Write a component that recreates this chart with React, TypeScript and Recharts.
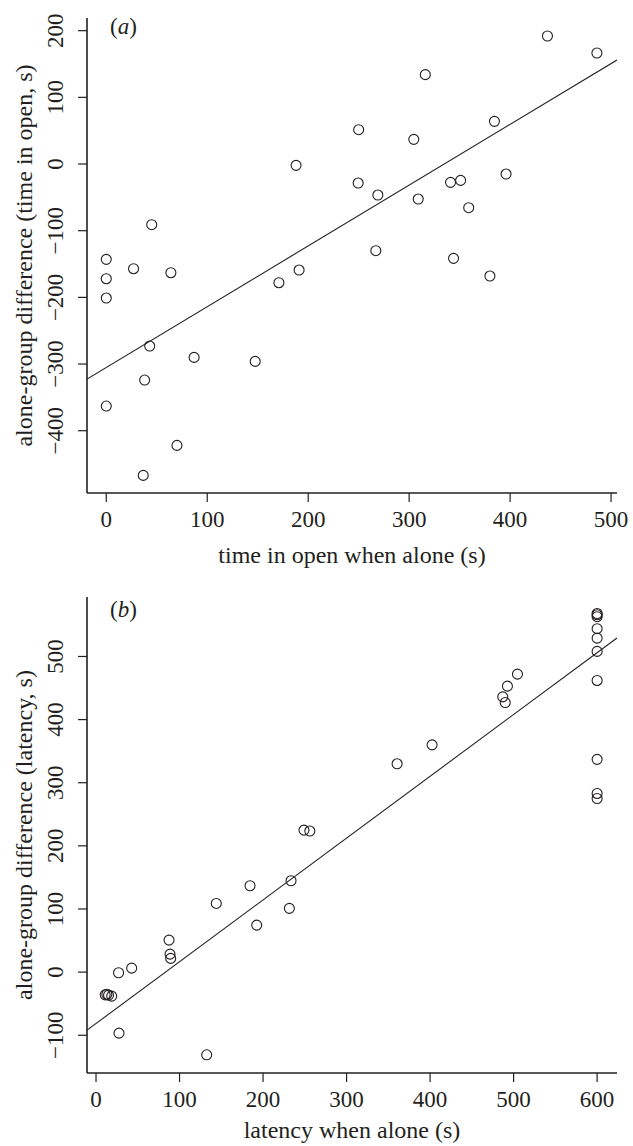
import React from 'react';
import { ScatterChart, Scatter, XAxis, YAxis, ReferenceLine } from 'recharts';

// Panel (a): time in open
const openAloneX = [0, 0, 0, 0, 27, 36.6, 38, 43, 45, 64, 70, 87, 147.5, 171, 188, 191, 249.5, 250, 267, 269, 304.6, 309, 316, 341, 344, 351, 359, 380, 384.5, 396, 437, 486];
const openDiffY = [-143, -172, -201, -363, -157, -467, -324, -273, -91, -163, -422, -290, -296, -178, -2, -159, -28.5, 51.5, -130, -46.5, 37, -52.5, 134, -27.5, -141.5, -24.5, -65.5, -168, 64, -15, 192, 166.5];
const openFit = { intercept: -305.1, slope: 0.9114 };
const openXDomain = [-19.1, 505.9];
const openYDomain = [-493.4, 219];
const openXTicks = [0, 100, 200, 300, 400, 500];
const openYTicks = [-400, -300, -200, -100, 0, 100, 200];

// Panel (b): latency
const latAloneX = [600, 600, 600, 600, 600, 600, 600, 600, 600, 600, 504.6, 492.6, 487, 490, 402.4, 360.5, 249, 256, 233.5, 184.4, 144, 231.5, 192.4, 87.4, 88.6, 89.4, 42.7, 27, 11, 13, 15, 18.8, 27.5, 132.5];
const latDiffY = [568, 566, 563, 544, 529, 508, 462, 337, 283, 275, 472, 453, 436, 427, 360, 330, 225, 223.5, 144.7, 136.8, 108.8, 101, 74.5, 50.7, 28.5, 21.7, 6.3, -1, -36, -35, -36.5, -38, -96.7, -131];
const latFit = { intercept: -81.4, slope: 0.979 };
const latXDomain = [-10.8, 623.8];
const latYDomain = [-159.8, 594.2];
const latXTicks = [0, 100, 200, 300, 400, 500, 600];
const latYTicks = [-100, 0, 100, 200, 300, 400, 500];

const INK = '#231f20';
const FONT = '"Liberation Serif", "DejaVu Serif", "Times New Roman", serif';

const toPoints = (xs: number[], ys: number[]) => xs.map((x, i) => ({ x, y: ys[i] }));
const fmt = (v: number) => String(v).replace('-', '\u2212');

const XTick = (p: any) => (
  <text x={p.x} y={p.y + 25} textAnchor="middle" fontFamily={FONT} fontSize={23} fill={INK}>
    {fmt(p.payload.value)}
  </text>
);

const YTick = (p: any) => {
  const bx = p.x - 15;
  return (
    <text x={bx} y={p.y} textAnchor="middle" transform={`rotate(-90 ${bx} ${p.y})`} fontFamily={FONT} fontSize={23} fill={INK}>
      {fmt(p.payload.value)}
    </text>
  );
};

const Ring = (p: any) => (
  <circle cx={p.cx} cy={p.cy} r={5} fill="none" stroke={INK} strokeWidth={1.1} />
);

type PanelProps = {
  letter: string;
  xs: number[];
  ys: number[];
  fit: { intercept: number; slope: number };
  xDomain: number[];
  yDomain: number[];
  xTicks: number[];
  yTicks: number[];
  xLabel: string;
  yLabel: string;
  top: number;
  bottomH: number;
  letterY: number;
  xLabelDy: number;
};

const Panel = ({ letter, xs, ys, fit, xDomain, yDomain, xTicks, yTicks, xLabel, yLabel, top, bottomH, letterY, xLabelDy }: PanelProps) => {
  const data = toPoints(xs, ys);
  const seg = [
    { x: xDomain[0], y: fit.intercept + fit.slope * xDomain[0] },
    { x: xDomain[1], y: fit.intercept + fit.slope * xDomain[1] },
  ];
  const H = 573;
  const plotTop = top;
  const plotBottom = H - bottomH;
  const plotMidY = (plotTop + plotBottom) / 2;
  const plotLeft = 87;
  const plotRight = 633 - 16;
  return (
    <ScatterChart width={633} height={H} margin={{ top, right: 16, left: 0, bottom: 0 }}>
      <XAxis
        type="number"
        dataKey="x"
        domain={xDomain}
        ticks={xTicks}
        interval={0}
        allowDataOverflow
        height={bottomH}
        tickSize={9}
        tickMargin={0}
        tick={<XTick />}
        tickLine={{ stroke: INK, strokeWidth: 1.2 }}
        axisLine={{ stroke: INK, strokeWidth: 1.6 }}
      />
      <YAxis
        type="number"
        dataKey="y"
        domain={yDomain}
        ticks={yTicks}
        interval={0}
        allowDataOverflow
        width={87}
        tickSize={9}
        tickMargin={0}
        tick={<YTick />}
        tickLine={{ stroke: INK, strokeWidth: 1.2 }}
        axisLine={{ stroke: INK, strokeWidth: 1.6 }}
      />
      <ReferenceLine segment={seg} stroke={INK} strokeWidth={1.1} ifOverflow="hidden" />
      <Scatter data={data} shape={<Ring />} isAnimationActive={false} />
      <text x={110} y={letterY} fontFamily={FONT} fontSize={23} fill={INK}>
        (<tspan fontStyle="italic">{letter}</tspan>)
      </text>
      <text x={(plotLeft + plotRight) / 2} y={plotBottom + xLabelDy} textAnchor="middle" fontFamily={FONT} fontSize={24} fill={INK}>
        {xLabel}
      </text>
      <text x={32} y={plotMidY} textAnchor="middle" transform={`rotate(-90 32 ${plotMidY})`} fontFamily={FONT} fontSize={24} fill={INK}>
        {yLabel}
      </text>
    </ScatterChart>
  );
};

export default function App() {
  return (
    <div style={{ position: 'absolute', left: 0, top: 0, width: 633, height: 1146, background: '#fff' }}>
      <Panel
        letter="a"
        xs={openAloneX}
        ys={openDiffY}
        fit={openFit}
        xDomain={openXDomain}
        yDomain={openYDomain}
        xTicks={openXTicks}
        yTicks={openYTicks}
        xLabel="time in open when alone (s)"
        yLabel="alone-group difference (time in open, s)"
        top={18}
        bottomH={80}
        letterY={34}
        xLabelDy={70}
      />
      <Panel
        letter="b"
        xs={latAloneX}
        ys={latDiffY}
        fit={latFit}
        xDomain={latXDomain}
        yDomain={latYDomain}
        xTicks={latXTicks}
        yTicks={latYTicks}
        xLabel="latency when alone (s)"
        yLabel="alone-group difference (latency, s)"
        top={24}
        bottomH={73}
        letterY={44}
        xLabelDy={65}
      />
    </div>
  );
}
